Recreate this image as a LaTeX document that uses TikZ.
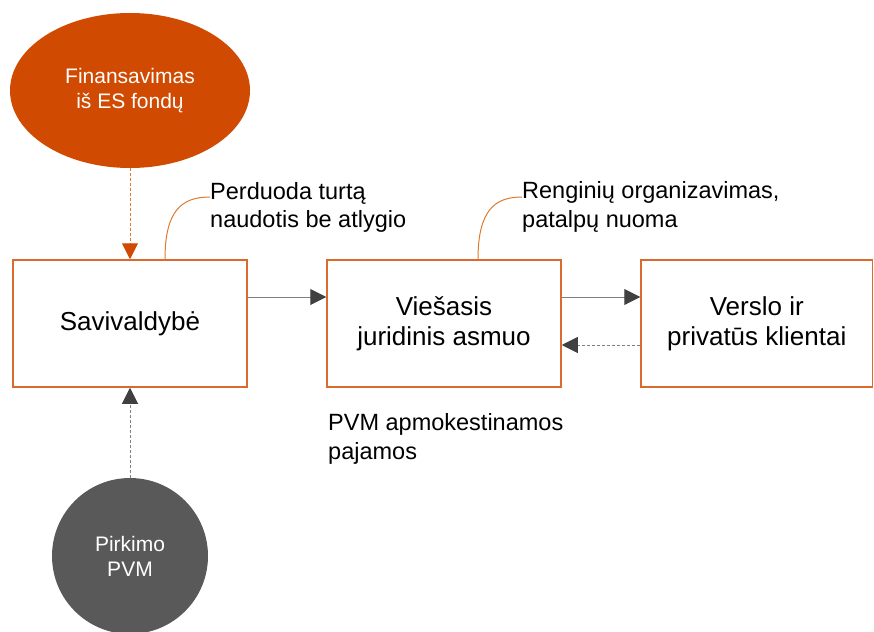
\documentclass[tikz,border=0pt]{standalone}
\usepackage{fontspec}
\setmainfont{Liberation Sans}
\usetikzlibrary{arrows.meta,calc,shapes.geometric}
\definecolor{pwcorange}{HTML}{D04A02}
\definecolor{boxorange}{HTML}{DC6A2C}
\definecolor{darkgr}{HTML}{595959}
\definecolor{linegr}{HTML}{808080}
\definecolor{headgr}{HTML}{404040}
\definecolor{dashorange}{HTML}{E07A2E}
\begin{document}
\begin{tikzpicture}[x=1pt,y=-1pt,
  boxnode/.style={draw=boxorange,line width=1.5pt,rectangle,inner sep=0pt,minimum width=234pt,minimum height=127pt,align=center,font=\fontsize{26}{30}\selectfont},
  calltext/.style={anchor=west,align=left,inner sep=0pt,font=\fontsize{23.5}{28.5}\selectfont},
  flow/.style={draw=linegr,line width=1pt,-{Triangle[length=16pt,width=16pt,color=headgr]}},
  backflow/.style={flow,dash pattern=on 3pt off 2pt},
  fundflow/.style={draw=dashorange,line width=1pt,dash pattern=on 3pt off 2pt,-{Triangle[length=16pt,width=16pt,color=pwcorange]}},
  callline/.style={draw=dashorange,line width=1pt}]
\useasboundingbox (0,0) rectangle (874,631);
\clip (0,0) rectangle (874,631);
\node[ellipse,fill=pwcorange,minimum width=240pt,minimum height=155pt,inner sep=0pt,text=white,align=center,font=\fontsize{21}{25}\selectfont] (es) at (130,90.5) {Finansavimas\\iš ES fondų};
\node[circle,fill=darkgr,minimum size=156pt,inner sep=0pt,text=white,align=center,font=\fontsize{21}{25}\selectfont] (pvm) at (130,556) {Pirkimo\\PVM};
\node[boxnode] (sav) at (130,323.5) {Savivaldybė};
\node[boxnode] (vja) at (444,323.5) {Viešasis\\juridinis asmuo};
\node[boxnode,minimum width=231.5pt] (vpk) at (756.75,323.5) {Verslo ir\\privatūs klientai};
\node[calltext] (t1) at (210,207.5) {Perduoda turtą\\naudotis be atlygio};
\node[calltext] (t2) at (522,207) {Renginių organizavimas,\\patalpų nuoma};
\node[calltext] (t3) at (328,439) {PVM apmokestinamos\\pajamos};
\draw[fundflow] (es.south) -- (sav.north);
\draw[backflow] (pvm.north) -- (sav.south);
\draw[flow] (sav.east |- 0,297) -- (vja.west |- 0,297);
\draw[flow] (vja.east |- 0,297) -- (vpk.west |- 0,297);
\draw[backflow] (vpk.west |- 0,345) -- (vja.east |- 0,345);
\draw[callline] (sav.north -| 165,0) .. controls (165,210) and (182,197) .. (t1.west |- 0,197);
\draw[callline] (vja.north -| 478,0) .. controls (478,210) and (495,197) .. (t2.west |- 0,197);
\end{tikzpicture}
\end{document}
